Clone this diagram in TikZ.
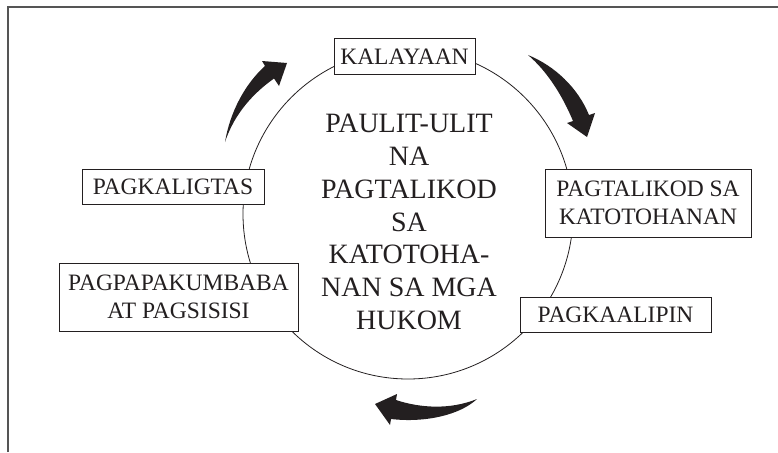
\documentclass[tikz,border=0pt]{standalone}
\usepackage{fontspec}
\setmainfont{Liberation Serif}
\definecolor{ink}{RGB}{35,31,32}
\definecolor{framegray}{RGB}{85,85,85}
\begin{document}
\begin{tikzpicture}[x=1pt,y=-1pt,
  box/.style={draw=ink, line width=1pt, fill=white, inner sep=0pt, align=center,
    font=\fontsize{23.5}{28}\selectfont, text=ink},
  ring/.style={circle, draw=ink, line width=0.8pt, inner sep=0pt, minimum size=330pt},
  frameline/.style={draw=framegray, line width=1.4pt},
  bigarrow/.style={fill=ink, draw=none}]
\useasboundingbox (0,0) rectangle (778,452);
% frame
\coordinate (fbl) at (8,452);
\coordinate (ftl) at (8,7);
\coordinate (ftr) at (778,7);
\draw[frameline] (fbl) -- (ftl) -- (ftr);
% circle
\node[ring] (cyc) at (408,214) {};
% centre text
\node[font=\fontsize{28}{32.8}\selectfont, align=center, text=ink] (title) at (409,222)
  {PAULIT-ULIT\\NA\\PAGTALIKOD\\SA\\KATOTOHA-\\NAN SA MGA\\HUKOM};
% boxes
\node[box, minimum width=141pt, minimum height=35pt] (kal) at (404.5,56.5) {KALAYAAN};
\node[box, minimum width=206pt, minimum height=68pt] (tal) at (648,203) {PAGTALIKOD SA\\KATOTOHANAN};
\node[box, minimum width=191pt, minimum height=35pt] (alip) at (615.5,314.5) {PAGKAALIPIN};
\node[box, minimum width=239pt, minimum height=68pt] (kumb) at (178.5,297) {PAGPAPAKUMBABA\\AT PAGSISISI};
\node[box, minimum width=182pt, minimum height=35pt] (lig) at (173,186.5) {PAGKALIGTAS};
% arrows
\fill[bigarrow] (225,142) .. controls (230,112) and (245,84) .. (265,66) -- (262,61) -- (287,63)
  -- (279,86) -- (274,78.5) .. controls (255,92) and (235,112) .. (225,142) -- cycle;
\fill[bigarrow] (528,55) .. controls (555,66) and (578,88) .. (589,115) -- (595,113) -- (587,137)
  -- (567,123) -- (573,121) .. controls (563,97) and (548,72) .. (528,55) -- cycle;
\fill[bigarrow] (477,399) .. controls (450,410) and (420,408) .. (396,400) -- (397,394) -- (375,404)
  -- (390,425) -- (391,419) .. controls (425,423) and (460,415) .. (477,399) -- cycle;
\end{tikzpicture}
\end{document}
